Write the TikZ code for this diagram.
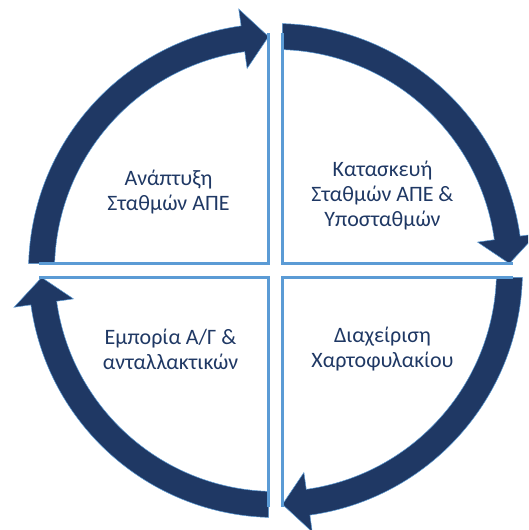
\documentclass[tikz,border=0pt]{standalone}
\usepackage{fontspec}
\setmainfont{Carlito}
\usetikzlibrary{positioning}
\definecolor{navy}{HTML}{1F3864}
\definecolor{lineblue}{HTML}{5B9BD5}
\tikzset{
    cyclearrow/.style = {fill=navy, draw=lineblue, line width=0.5pt},
    quadline/.style = {draw=lineblue, line width=2.4pt},
    steptext/.style = {align=center, text=navy, inner sep=0pt, font=\fontsize{22}{25}\selectfont}
}
\begin{document}
\begin{tikzpicture}[x=1pt, y=1pt]
\useasboundingbox (0,0) rectangle (528,530);
\clip (0,0) rectangle (528,530);
\begin{scope}[shift={(275.5,259.5)}]
%
\foreach \rot in {0,-90,-180,-270}{
  \draw[cyclearrow, rotate=\rot] (88.38:247) arc[start angle=88.38, end angle=8, radius=247]
    -- (8:264) -- (1.71:234) -- (8:204) -- (8:221)
    arc[start angle=8, end angle=88.18, radius=221] -- cycle;
}
\foreach \rot in {0,-90,-180,-270}{
  \draw[quadline, rotate=\rot] (7,237) -- (7,7) -- (237,7);
}
%
\node[steptext] (dev) at (-107,78) {Ανάπτυξη\\Σταθμών ΑΠΕ};
\node[steptext] (build) at (107,75) {Κατασκευή\\Σταθμών ΑΠΕ \&\\Υποσταθμών};
\node[steptext] (portfolio) at (107,-79) {Διαχείριση\\Χαρτοφυλακίου};
\node[steptext] (trade) at (-105,-79) {Εμπορία Α/Γ \&\\ανταλλακτικών};
\end{scope}
\end{tikzpicture}
\end{document}
